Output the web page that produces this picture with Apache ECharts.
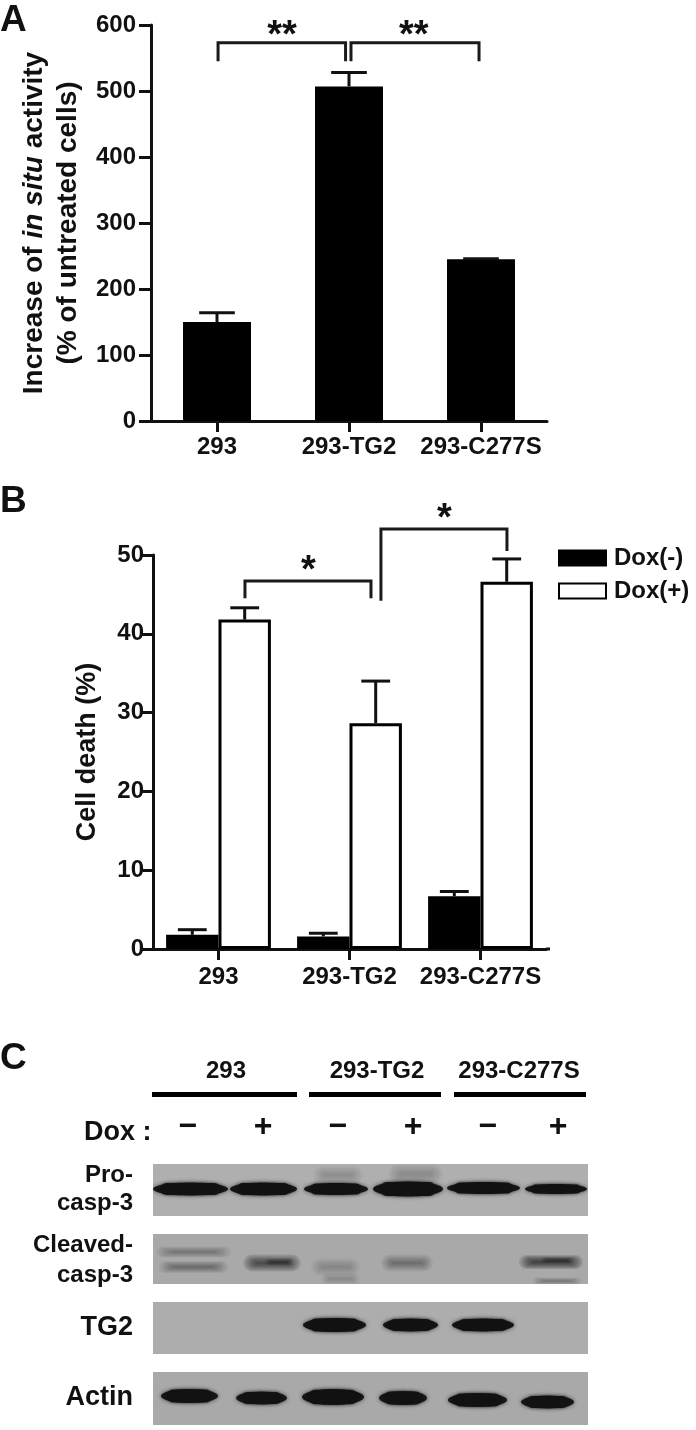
<!DOCTYPE html>
<html><head><meta charset="utf-8">
<style>html,body{margin:0;padding:0;background:#fff}#c{width:696px;height:1430px;filter:blur(0.6px)}</style>
<script src="https://cdn.jsdelivr.net/npm/echarts@6/dist/echarts.min.js"></script>
</head><body><div id="c"></div>
<script>
const categories = ['293', '293-TG2', '293-C277S'];
const activity = [150, 507, 245];
const activityErr = [164, 528, 246];
const doxMinus = [1.8, 1.6, 6.7];
const doxMinusErr = [2.45, 2.0, 7.3];
const doxPlus = [41.8, 28.65, 46.6];
const doxPlusErr = [43.3, 34, 49.5];
const ticksA = [0, 100, 200, 300, 400, 500, 600];
const ticksB = [0, 10, 20, 30, 40, 50];
// brackets in data units (band position on the category axis, value)
const bracketsA = [
  [[0.508, 545], [0.508, 573], [1.474, 573], [1.474, 545]],
  [[1.515, 545], [1.515, 573], [2.485, 573], [2.485, 545]]
];
const starsA = [['**', 0.992, 583], ['**', 1.99, 583]];
const bracketsB = [
  [[0.702, 44.5], [0.702, 46.7], [1.664, 46.7], [1.664, 44.5]],
  [[1.740, 44.2], [1.740, 53.3], [2.702, 53.3], [2.702, 50.5]]
];
const starsB = [['*', 1.186, 47.9], ['*', 2.225, 54.5]];
// blot bands: start, end, centre, thickness, darkness (on each blot's own scale 0-435 / 0-52)
const bandsPro = [
  [0, 75, 25, 13, .96], [77, 144, 25, 13, .96], [151, 215, 25, 12, .96],
  [220, 290, 25, 15, .97], [294, 367, 24, 12, .96], [372, 434, 25, 10, .96],
  [160, 210, 11, 18, .14], [235, 290, 10, 20, .2]
];
const bandsCleaved = [
  [3, 78, 18, 11, .3], [6, 75, 33, 12, .34], [90, 148, 29, 17, .62], [112, 140, 28, 7, .4],
  [158, 207, 33, 17, .2], [168, 207, 45, 12, .14], [228, 280, 29, 17, .32],
  [366, 430, 28, 14, .72], [388, 420, 26, 6, .4], [380, 428, 47, 7, .28]
];
const bandsTG2 = [
  [150, 213, 23, 14, .97], [230, 285, 23, 13, .96], [299, 361, 23, 13, .97]
];
const bandsActin = [
  [8, 65, 24, 14, .94], [83, 134, 26, 13, .94], [149, 211, 25, 16, .96],
  [226, 274, 26, 14, .94], [295, 354, 28, 14, .95], [368, 421, 30, 13, .94]
];
const blots = [bandsPro, bandsCleaved, bandsTG2, bandsActin];
const blotShades = ['#afafaf', '#a9a9a9', '#adadad', '#a9a9a9'];
const blotTicks = ['\u2212', '+', '\u2212', '+', '\u2212', '+'];
const blotRows = [['Pro-', 24], ['casp-3', 24], ['Cleaved-', 24], ['casp-3', 24], ['TG2', 27], ['Actin', 27]];

const FONT = '"Liberation Sans", Arial, sans-serif';
const INK = '#111';
const blotRects = [[153, 1164, 435, 52], [153, 1234, 435, 50], [153, 1302, 435, 52], [153, 1372, 435, 53]];
const rowY = [1175, 1203, 1245, 1275, 1328, 1398];
const laneX = [188, 263, 338, 413, 488, 558];
const headX = [226, 377, 519];
const headBars = [[152, 145], [309, 132], [454, 132]];

function txt(text, x, y, size, align) {
  return { type: 'text', x, y, silent: true,
    style: { text, fill: INK, font: 'bold ' + size + 'px ' + FONT, textAlign: align || 'center', textVerticalAlign: 'middle' } };
}
const graphic = [
  txt('A', 0, 21, 37, 'left'), txt('B', 0, 502, 37, 'left'), txt('C', 0, 1059, 37, 'left'),
  txt('Dox :', 84, 1133, 27, 'left'),
  { type: 'rect', silent: true, shape: { x: 546, y: 947.5, width: 4, height: 3 }, style: { fill: INK } }
];
categories.forEach((c, i) => {
  graphic.push(txt(c, headX[i], 1071, 24));
  graphic.push({ type: 'rect', silent: true, shape: { x: headBars[i][0], y: 1092, width: headBars[i][1], height: 5 }, style: { fill: '#000' } });
});
blotTicks.forEach((t, i) => graphic.push(txt(t, laneX[i], 1127, 32)));
blotRows.forEach((r, i) => graphic.push(txt(r[0], 133, rowY[i], r[1], 'right')));

function valueAxis(gridIndex, max, interval, name, nameGap, nameSize, fontSize, margin) {
  return {
    type: 'value', gridIndex, min: 0, max, interval, name, nameLocation: 'middle', nameGap,
    nameTextStyle: { color: INK, fontFamily: FONT, fontWeight: 'bold', fontSize: nameSize, lineHeight: 34,
      rich: {
        a: { color: INK, fontFamily: FONT, fontWeight: 'bold', fontSize: nameSize, lineHeight: 34 },
        i: { color: INK, fontFamily: FONT, fontWeight: 'bold', fontStyle: 'italic', fontSize: nameSize, lineHeight: 34 }
      } },
    splitLine: { show: false },
    axisLine: { show: true, onZero: false, lineStyle: { color: INK, width: 3 } },
    axisTick: { show: true, length: 12, lineStyle: { color: INK, width: 3 } },
    axisLabel: { color: INK, fontFamily: FONT, fontWeight: 'bold', fontSize, margin }
  };
}
function catAxis(gridIndex, margin) {
  return {
    type: 'category', gridIndex, data: categories, boundaryGap: true,
    axisLine: { lineStyle: { color: INK, width: 3 } },
    axisTick: { show: true, alignWithLabel: true, length: 11, lineStyle: { color: INK, width: 3 } },
    axisLabel: { color: INK, fontFamily: FONT, fontWeight: 'bold', fontSize: 24, margin, interval: 0 }
  };
}
function hiddenX(gridIndex, max) { return { type: 'value', gridIndex, min: 0, max, show: false }; }

function errSeries(name, xAxisIndex, yAxisIndex, values, tops, offset, cap) {
  return {
    type: 'custom', name: name + ' error', xAxisIndex, yAxisIndex, z: 5, clip: false,
    data: values.map((v, i) => [i + .5 + offset, v, tops[i]]),
    renderItem(params, api) {
      const x = api.value(0);
      const a = api.coord([x, api.value(1)]), b = api.coord([x, api.value(2)]);
      const half = api.size([cap / 2, 0])[0];
      const ls = { stroke: INK, lineWidth: 3, fill: null };
      return { type: 'group', children: [
        { type: 'line', shape: { x1: a[0], y1: a[1], x2: b[0], y2: b[1] }, style: ls },
        { type: 'line', shape: { x1: b[0] - half, y1: b[1], x2: b[0] + half, y2: b[1] }, style: ls }
      ] };
    }
  };
}
function bracketSeries(xAxisIndex, yAxisIndex, list) {
  return {
    type: 'custom', xAxisIndex, yAxisIndex, z: 6, clip: false,
    data: list.map((p, i) => [p[0][0], p[0][1], i]),
    renderItem(params, api) {
      const pts = list[api.value(2)].map(p => api.coord(p));
      return { type: 'polyline', shape: { points: pts }, style: { stroke: '#1a1a1a', lineWidth: 3, fill: null } };
    }
  };
}
function starSeries(xAxisIndex, yAxisIndex, list, size) {
  return {
    type: 'custom', xAxisIndex, yAxisIndex, z: 6, clip: false,
    data: list.map((s, i) => [s[1], s[2], i]),
    renderItem(params, api) {
      const c = api.coord([api.value(0), api.value(1)]);
      return { type: 'text', x: c[0], y: c[1],
        style: { text: list[api.value(2)][0], fill: INK, font: 'bold ' + size + 'px ' + FONT, textAlign: 'center', textVerticalAlign: 'middle' } };
    }
  };
}
function bandSeries(index, bands) {
  return {
    type: 'custom', xAxisIndex: 4 + index, yAxisIndex: 2 + index, z: 3, clip: true,
    data: bands,
    renderItem(params, api) {
      const a = api.coord([api.value(0), api.value(2)]);
      const b = api.coord([api.value(1), api.value(2)]);
      const h = api.size([0, api.value(3)])[1];
      const dark = api.value(4);
      const w = b[0] - a[0], cx = (a[0] + b[0]) / 2;
      if (dark > .8) {
        const col = 'rgba(18,18,18,' + dark + ')';
        const inset = w * 0.1;
        return { type: 'group', children: [
          { type: 'ellipse', shape: { cx, cy: a[1], rx: w / 2, ry: h / 2 },
            style: { fill: col, shadowBlur: 4, shadowColor: 'rgba(18,18,18,.7)' } },
          { type: 'rect', shape: { x: a[0] + inset, y: a[1] - h * .46, width: w - 2 * inset, height: h * .92, r: h * .46 },
            style: { fill: col, shadowBlur: 3, shadowColor: 'rgba(18,18,18,.6)' } }
        ] };
      }
      // faint bands: nested soft layers so the edge fades out
      const layers = [];
      const n = 8;
      for (let k = 0; k < n; k++) {
        const f = 1 - k / n;
        const lw = w * (0.5 + 0.5 * f);
        const hh = h * f;
        layers.push({ type: 'rect', shape: { x: cx - lw / 2, y: a[1] - hh / 2, width: lw, height: hh, r: hh / 2 },
          style: { fill: 'rgba(18,18,18,' + (dark / n * 1.25) + ')', shadowBlur: 3, shadowColor: 'rgba(18,18,18,' + (dark / n) + ')' } });
      }
      return { type: 'group', children: layers };
    }
  };
}

const grids = [
  { left: 151, top: 25, width: 396, height: 396, outerBoundsMode: 'none' },
  { left: 153, top: 555, width: 393, height: 394, outerBoundsMode: 'none' }
].concat(blotRects.map((r, i) => ({ left: r[0], top: r[1], width: r[2], height: r[3], show: true, backgroundColor: blotShades[i], borderWidth: 0, outerBoundsMode: 'none' })));

const xAxis = [catAxis(0, 14), hiddenX(0, 3), catAxis(1, 16), hiddenX(1, 3)];
const yAxis = [
  valueAxis(0, ticksA[ticksA.length - 1], ticksA[1] - ticksA[0],
    '{a|Increase of }{i|in situ}{a| activity}\n{a|(% of untreated cells)}', 60, 28, 24, 15),
  valueAxis(1, ticksB[ticksB.length - 1], ticksB[1] - ticksB[0], 'Cell death (%)', 48, 27, 24, 9)
];
blotRects.forEach((r, i) => {
  xAxis.push({ type: 'value', gridIndex: 2 + i, min: 0, max: 435, show: false });
  yAxis.push({ type: 'value', gridIndex: 2 + i, min: 0, max: r[3], inverse: true, show: false });
});

const series = [
  { type: 'bar', name: 'Activity', xAxisIndex: 0, yAxisIndex: 0, data: activity, barWidth: '51.5%', itemStyle: { color: '#000' } },
  errSeries('Activity', 1, 0, activity, activityErr, 0, .27),
  bracketSeries(1, 0, bracketsA),
  starSeries(1, 0, starsA, 38),
  { type: 'bar', name: 'Dox(-)', xAxisIndex: 2, yAxisIndex: 1, data: doxMinus, barWidth: '40%', barGap: 0,
    itemStyle: { color: '#000', borderColor: '#000', borderWidth: 3 } },
  { type: 'bar', name: 'Dox(+)', xAxisIndex: 2, yAxisIndex: 1, data: doxPlus, barWidth: '40%', barGap: 0,
    itemStyle: { color: '#fff', borderColor: '#000', borderWidth: 3 } },
  errSeries('Dox(-)', 3, 1, doxMinus, doxMinusErr, -.2, .22),
  errSeries('Dox(+)', 3, 1, doxPlus, doxPlusErr, .2, .22),
  bracketSeries(3, 1, bracketsB),
  starSeries(3, 1, starsB, 38)
].concat(blots.map((b, i) => bandSeries(i, b)));

const chart = echarts.init(document.getElementById('c'), null, { renderer: 'canvas' });
chart.setOption({
  animation: false,
  backgroundColor: '#fff',
  grid: grids, xAxis, yAxis, series, graphic,
  legend: {
    data: ['Dox(-)', 'Dox(+)'], orient: 'vertical', left: 558, top: 546, padding: 0,
    itemWidth: 47, itemHeight: 15, itemGap: 9, selectedMode: false, icon: 'rect',
    textStyle: { color: INK, fontFamily: FONT, fontWeight: 'bold', fontSize: 24, padding: [0, 0, 0, 3] }
  }
});
</script></body></html>
